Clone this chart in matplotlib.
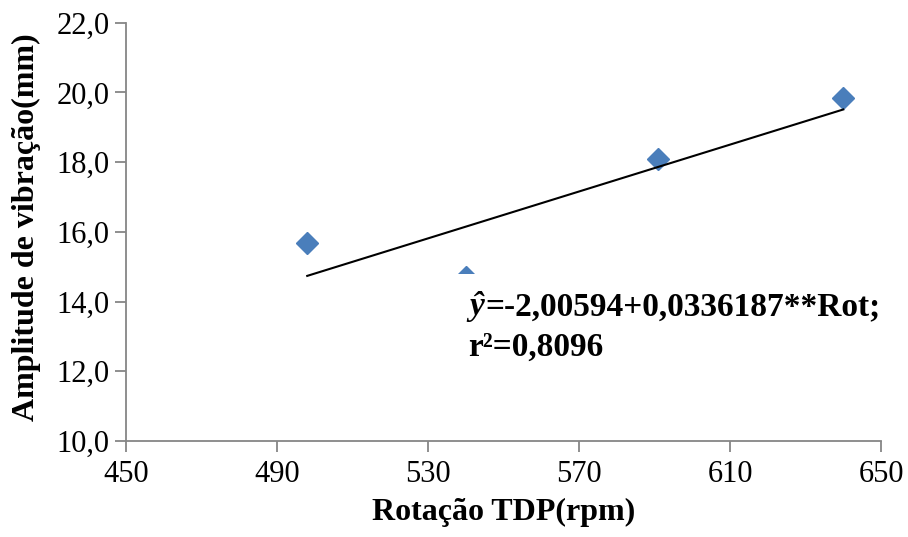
import matplotlib
matplotlib.use("Agg")
import matplotlib.pyplot as plt
import numpy as np
from matplotlib.ticker import FuncFormatter
from matplotlib.patches import Rectangle

plt.rcParams['font.family'] = ['Liberation Serif', 'DejaVu Serif']

rot = [498, 540, 591, 640]
amp = [15.67, 14.70, 18.08, 19.85]
b0 = -2.00594
b1 = 0.0336187
xticks = [450, 490, 530, 570, 610, 650]
yticks = [10, 12, 14, 16, 18, 20, 22]
eq_line1 = '=-2,00594+0,0336187**Rot;'
eq_line2 = 'r²=0,8096'

fig = plt.figure(figsize=(9.08, 5.37), dpi=100)
ax = fig.add_axes([0.1388, 0.1788, 0.8315, 0.779])

ax.plot(rot, amp, linestyle='none', marker='D', markersize=11,
        color='#4A7EBB', zorder=2, clip_on=False)
xl = np.array([min(rot), max(rot)])
ax.plot(xl, b0 + b1 * xl, color='black', lw=1.5, zorder=3)

# white label background (as in the original, it hides part of a marker)
ax.add_patch(Rectangle((537, 12.0), 113, 2.78, facecolor='white',
                       edgecolor='none', zorder=4, clip_on=False))

fs = 24
t1 = ax.text(540.9, 13.62, 'ŷ', fontsize=fs, fontweight='bold', fontstyle='italic',
             va='baseline', ha='left', zorder=5)
fig.canvas.draw()
r = fig.canvas.get_renderer()
w = t1.get_window_extent(r).width * 72 / fig.dpi
ax.annotate(eq_line1, xy=(540.9, 13.62), xycoords='data', xytext=(w + 1, 0),
            textcoords='offset points', fontsize=fs, fontweight='bold',
            va='baseline', ha='left', zorder=5)
ax.text(540.7, 12.44, eq_line2, fontsize=fs, fontweight='bold',
        va='baseline', ha='left', zorder=5)

ax.set_xlim(450, 650)
ax.set_ylim(10, 22)
ax.set_xticks(xticks)
ax.set_yticks(yticks)
ax.yaxis.set_major_formatter(FuncFormatter(lambda v, p: f"{v:.1f}".replace('.', ',')))
for s in ['top', 'right']:
    ax.spines[s].set_visible(False)
for s in ['left', 'bottom']:
    ax.spines[s].set_color('#868686')
    ax.spines[s].set_linewidth(1.3)
ax.tick_params(axis='both', direction='out', length=8, width=1.3, color='#868686',
               labelsize=22, labelcolor='black')
ax.tick_params(axis='x', pad=6)
ax.tick_params(axis='y', pad=4)
ax.set_xlabel('Rotação TDP(rpm)', fontsize=23, fontweight='bold', labelpad=6)
ax.set_ylabel('Amplitude de vibração(mm)', fontsize=23, fontweight='bold')
ax.yaxis.set_label_coords(-0.1126, 0.5116)

fig.savefig('out.png', dpi=100)
